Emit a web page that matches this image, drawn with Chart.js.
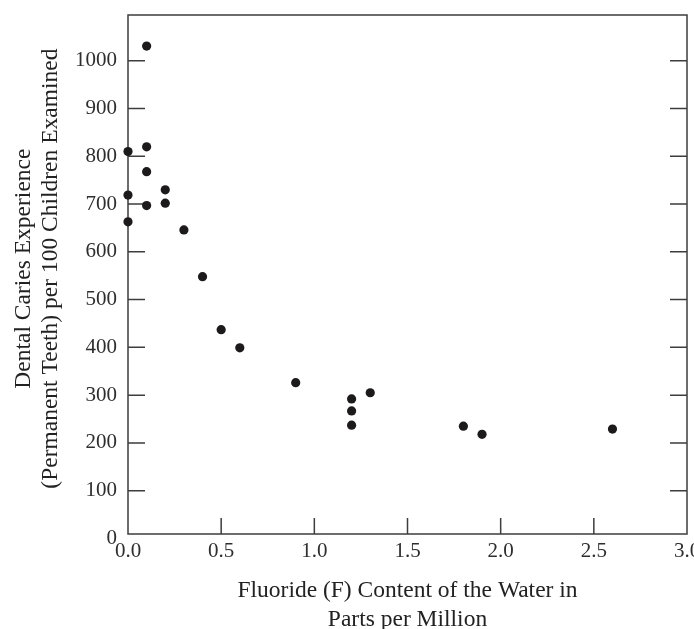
<!DOCTYPE html>
<html>
<head>
<meta charset="utf-8">
<script src="https://cdn.jsdelivr.net/npm/chart.js@4"></script>
<style>
  html, body { margin: 0; padding: 0; background: #fff; }
  #wrap { width: 694px; height: 629px; }
</style>
</head>
<body>
<div id="wrap"><canvas id="graph" width="694" height="629"></canvas></div>
<script>
// fluoride content (ppm) and caries experience per 100 children
var fluoride = [0, 0, 0, 0.1, 0.1, 0.1, 0.1, 0.2, 0.2, 0.3, 0.4, 0.5, 0.6, 0.9, 1.2, 1.2, 1.2, 1.3, 1.8, 1.9, 2.6];
var caries   = [810, 719, 663, 1031, 820, 768, 697, 730, 702, 646, 548, 437, 399, 326, 292, 267, 237, 305, 235, 218, 229];

var yTickValues = [0, 100, 200, 300, 400, 500, 600, 700, 800, 900, 1000];
var xTickValues = [0, 0.5, 1.0, 1.5, 2.0, 2.5, 3.0];

var xTitle = ['Fluoride (F) Content of the Water in', 'Parts per Million'];
var yTitle = ['\u2002Dental Caries Experience', '\u2002(Permanent Teeth) per 100 Children Examined'];

var serif = "'Liberation Serif', 'DejaVu Serif', serif";

// 테두리 + 안쪽 눈금
var framePlugin = {
	id: 'frame',
	beforeDatasetsDraw: function(chart) {
		var ctx = chart.ctx, a = chart.chartArea;
		var x = chart.scales.x, y = chart.scales.y;
		ctx.save();
		ctx.strokeStyle = '#3d3d3d';
		ctx.lineWidth = 1.5;
		ctx.strokeRect(a.left, a.top, a.right - a.left, a.bottom - a.top);
		ctx.beginPath();
		y.ticks.forEach(function(t) {
			if (t.value <= 0) return;
			var py = y.getPixelForValue(t.value);
			ctx.moveTo(a.left, py); ctx.lineTo(a.left + 17, py);
			ctx.moveTo(a.right, py); ctx.lineTo(a.right - 17, py);
		});
		x.ticks.forEach(function(t) {
			if (t.value <= 0 || t.value >= 3) return;
			var px = x.getPixelForValue(t.value);
			ctx.moveTo(px, a.bottom); ctx.lineTo(px, a.bottom - 16);
		});
		ctx.stroke();
		ctx.restore();
	}
};

var points = fluoride.map(function(f, i) { return { x: f, y: caries[i] }; });

var myChart = new Chart(document.getElementById('graph').getContext('2d'), {
	type: 'scatter',
	data: {
		datasets: [{
			data: points,
			clip: false,
			pointRadius: 4.6,
			pointBorderWidth: 0,
			backgroundColor: '#1c1a1b',
			borderColor: '#1c1a1b'
		}]
	},
	options: {
		animation: false,
		responsive: false,
		layout: { padding: { top: 15, right: 7, left: 0, bottom: 0 } },
		plugins: { legend: { display: false }, tooltip: { enabled: false } },
		scales: {
			x: {
				type: 'linear',
				min: 0,
				max: 3,
				grid: { display: false, drawTicks: false },
				border: { display: false },
				afterBuildTicks: function(axis) {
					axis.ticks = xTickValues.map(function(v) { return { value: v }; });
				},
				afterFit: function(scale) {
					scale.height = 95;
					scale.paddingLeft = 0;
					scale.paddingRight = 0;
				},
				ticks: {
					padding: 5,
					maxRotation: 0,
					autoSkip: false,
					color: '#2e2e2e',
					font: { family: serif, size: 21 },
					callback: function(v) { return Number(v).toFixed(1); }
				},
				title: {
					display: true,
					text: xTitle,
					color: '#222',
					font: { family: serif, size: 23.5, lineHeight: 1.23 },
					padding: { top: 0, bottom: -5.5 }
				}
			},
			y: {
				type: 'linear',
				min: 9.2,
				max: 1096,
				grid: { display: false, drawTicks: false },
				border: { display: false },
				afterBuildTicks: function(axis) {
					axis.ticks = yTickValues.map(function(v) { return { value: v }; });
				},
				afterFit: function(scale) {
					scale.width = 128;
					scale.paddingTop = 0;
					scale.paddingBottom = 0;
				},
				ticks: {
					padding: 11,
					autoSkip: false,
					color: '#2e2e2e',
					font: { family: serif, size: 21 },
					callback: function(v) { return String(v); }
				},
				title: {
					display: true,
					text: yTitle,
					color: '#222',
					font: { family: serif, size: 23.5, lineHeight: 1.15 },
					padding: { top: 10.5, bottom: 0 }
				}
			}
		}
	},
	plugins: [framePlugin]
});
</script>
</body>
</html>
